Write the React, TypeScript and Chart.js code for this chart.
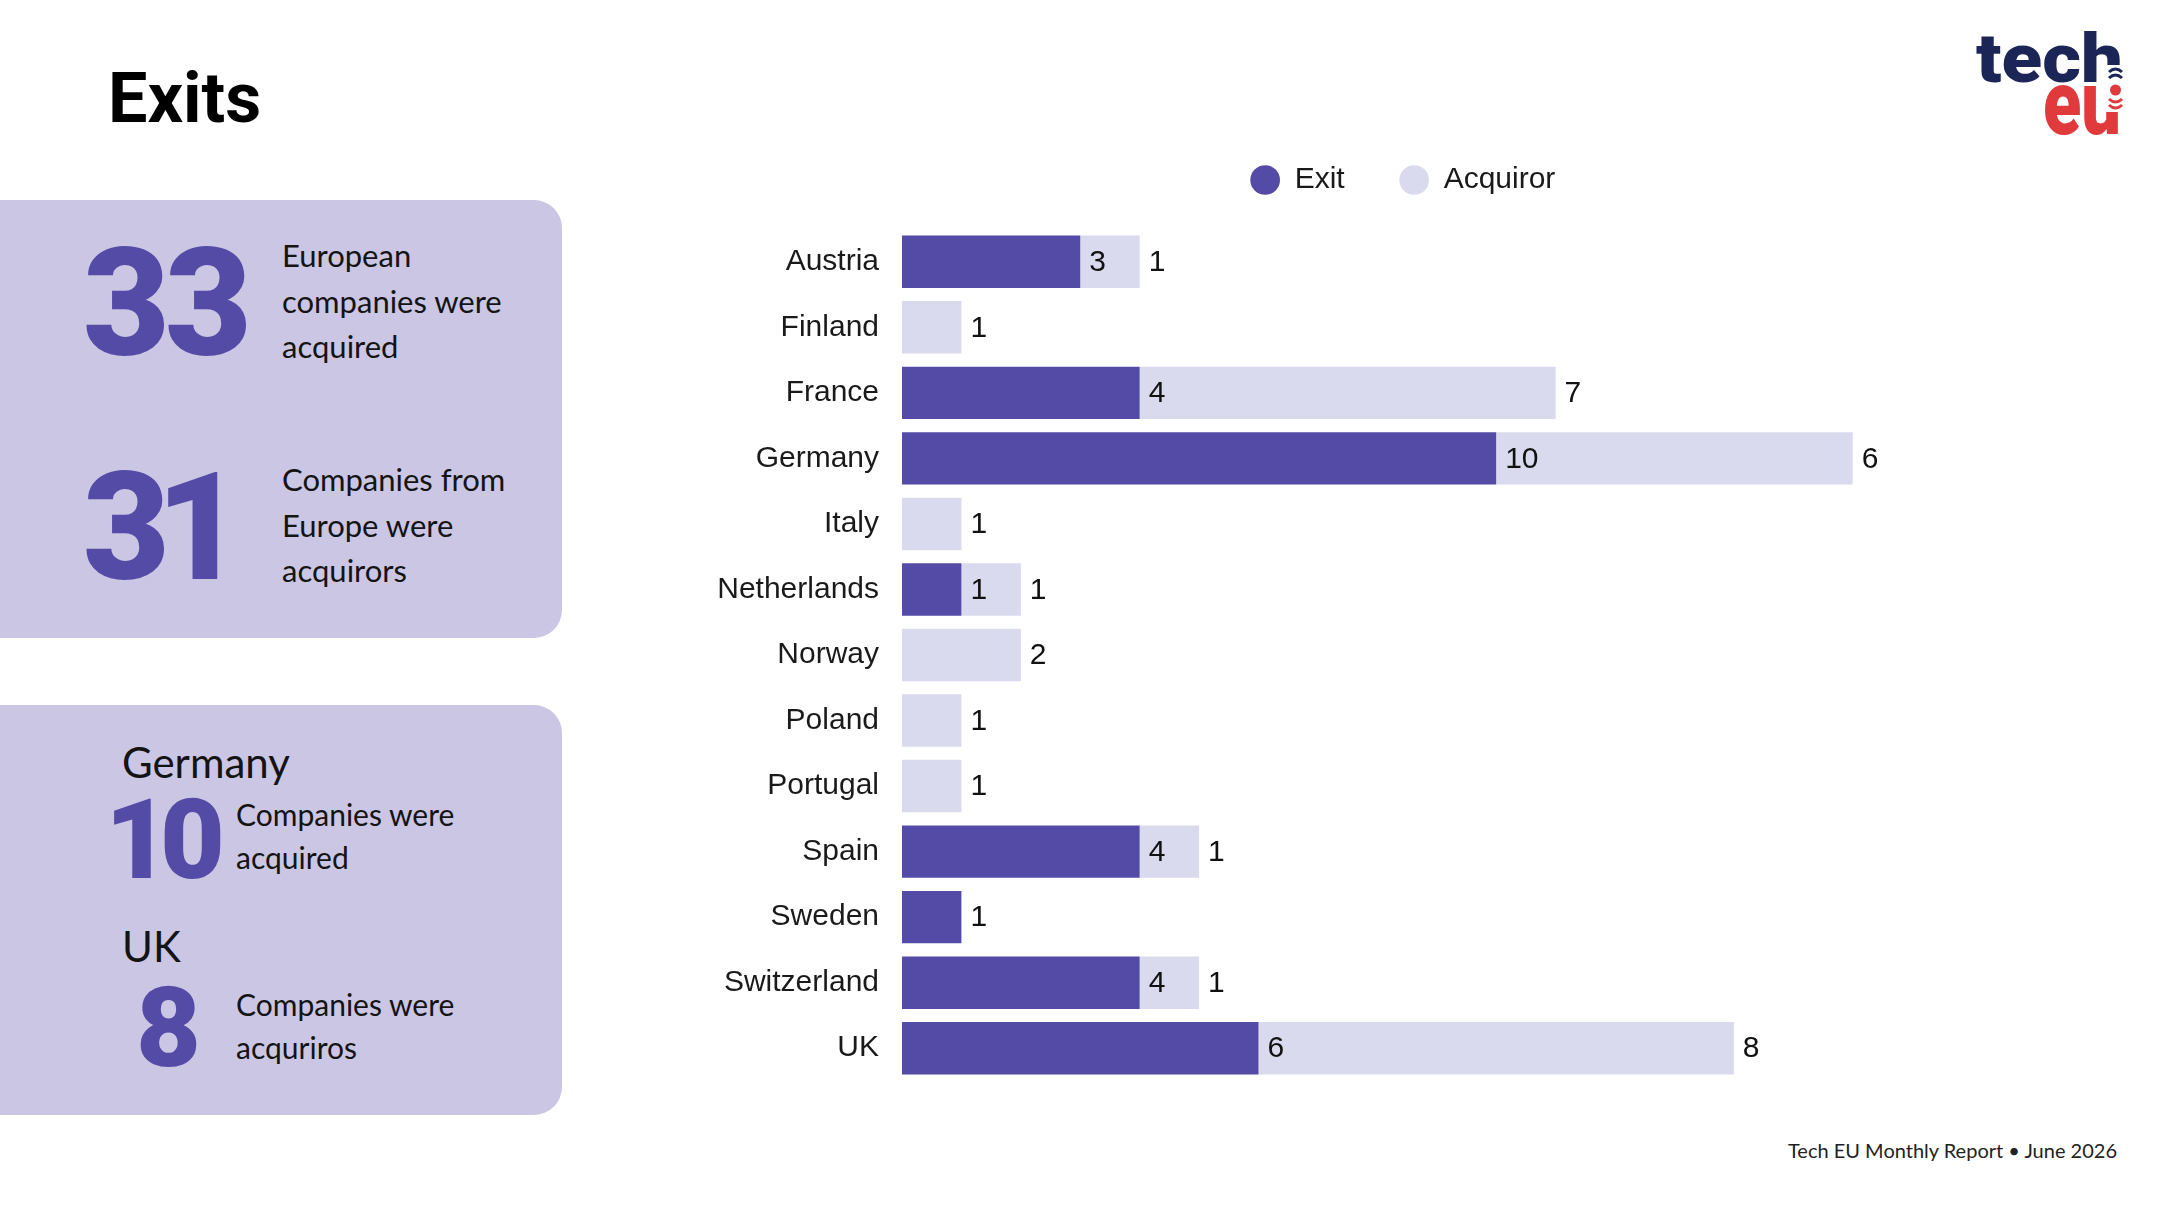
import React, { useEffect, useRef } from "react";
import { Chart, registerables } from "chart.js";

Chart.register(...registerables);

// Countries with deals this month
const countries = [
  "Austria",
  "Finland",
  "France",
  "Germany",
  "Italy",
  "Netherlands",
  "Norway",
  "Poland",
  "Portugal",
  "Spain",
  "Sweden",
  "Switzerland",
  "UK",
];

// Companies acquired (exits) per country
const exitCounts = [3, 0, 4, 10, 0, 1, 0, 0, 0, 4, 1, 4, 6];
// Companies acting as acquirors per country
const acquirorCounts = [1, 1, 7, 6, 1, 1, 2, 1, 1, 1, 0, 1, 8];

const seriesNames = ["Exit", "Acquiror"];

const EXIT_COLOR = "#534BA6";
const ACQUIROR_COLOR = "#DADAEE";
const PANEL_COLOR = "#CBC6E4";
const NAVY = "#1B2656";
const RED = "#E03A3C";
const LABEL_FONT = "'Liberation Sans', Arial, sans-serif";
const BODY_FONT = "Lato, 'Open Sans', sans-serif";
const NUMBER_FONT = "Roboto, 'Noto Sans', sans-serif";

// Writes each non-zero value just past the end of its bar segment
const valueLabels = {
  id: "valueLabels",
  afterDatasetsDraw(chart: any) {
    const ctx = chart.ctx;
    ctx.save();
    ctx.font = `30px ${LABEL_FONT}`;
    ctx.fillStyle = "#111111";
    ctx.textBaseline = "middle";
    ctx.textAlign = "left";
    chart.data.datasets.forEach((ds: any, i: number) => {
      const meta = chart.getDatasetMeta(i);
      meta.data.forEach((bar: any, j: number) => {
        const v = ds.data[j];
        if (!v) return;
        ctx.fillText(String(v), bar.x + 9, bar.y + 1);
      });
    });
    ctx.restore();
  },
};

// Adds breathing room between the legend and the bars
const legendGap = {
  id: "legendGap",
  beforeInit(chart: any) {
    const originalFit = chart.legend.fit;
    chart.legend.fit = function fit() {
      originalFit.bind(chart.legend)();
      this.height += 24;
    };
  },
};

function ExitsChart() {
  const canvasRef = useRef<HTMLCanvasElement | null>(null);

  useEffect(() => {
    if (!canvasRef.current) return;
    const chart = new Chart(canvasRef.current, {
      type: "bar",
      data: {
        labels: countries,
        datasets: [
          {
            label: seriesNames[0],
            data: exitCounts,
            backgroundColor: EXIT_COLOR,
            borderWidth: 0,
            categoryPercentage: 0.8,
            barPercentage: 1,
          },
          {
            label: seriesNames[1],
            data: acquirorCounts,
            backgroundColor: ACQUIROR_COLOR,
            borderWidth: 0,
            categoryPercentage: 0.8,
            barPercentage: 1,
          },
        ],
      },
      options: {
        indexAxis: "y",
        animation: false,
        responsive: false,
        maintainAspectRatio: false,
        layout: { padding: 0 },
        scales: {
          x: {
            stacked: true,
            display: false,
            min: 0,
            max: 20.6,
          },
          y: {
            stacked: true,
            grid: { display: false, drawTicks: false },
            border: { display: false },
            ticks: {
              padding: 23,
              color: "#1a1a1a",
              font: { family: LABEL_FONT, size: 30 },
            },
            afterFit(scale: any) {
              scale.width = 222;
              scale.paddingTop = 0;
              scale.paddingBottom = 0;
            },
          },
        },
        plugins: {
          legend: {
            display: true,
            position: "top",
            align: "center",
            labels: {
              usePointStyle: true,
              pointStyle: "circle",
              boxWidth: 29,
              boxHeight: 21,
              padding: 55,
              color: "#1a1a1a",
              font: { family: LABEL_FONT, size: 30 },
            },
          },
          tooltip: { enabled: false },
        },
      },
      plugins: [valueLabels, legendGap],
    } as any);
    return () => chart.destroy();
  }, []);

  return (
    <canvas
      ref={canvasRef}
      width={1446}
      height={971}
      style={{ position: "absolute", left: 680, top: 110, width: 1446, height: 971 }}
    />
  );
}

function Logo() {
  return (
    <svg
      width={200}
      height={130}
      viewBox="0 0 200 130"
      style={{ position: "absolute", left: 1960, top: 20 }}
    >
      <text
        x={16}
        y={62}
        fontFamily={NUMBER_FONT}
        fontWeight={900}
        fontSize={68}
        fill={NAVY}
        textLength={147}
        lengthAdjust="spacingAndGlyphs"
      >
        tech
      </text>
      <g transform="translate(83,114) scale(1,1.45)">
        <text
          x={0}
          y={0}
          fontFamily={NUMBER_FONT}
          fontWeight={900}
          fontSize={63}
          fill={RED}
          textLength={78}
          lengthAdjust="spacingAndGlyphs"
        >
          eu
        </text>
      </g>
      {/* signal "i": cut stems, then arcs around the dot */}
      <rect x={146} y={45} width={24} height={19} fill="#ffffff" />
      <rect x={146} y={64} width={24} height={28} fill="#ffffff" />
      <path d="M149 52 Q155.5 46 162 52" stroke={NAVY} strokeWidth={3} fill="none" />
      <path d="M149 58 Q155.5 52 162 58" stroke={NAVY} strokeWidth={3} fill="none" />
      <circle cx={155.5} cy={70} r={5.5} fill={RED} />
      <path d="M149 79 Q155.5 85 162 79" stroke={RED} strokeWidth={3} fill="none" />
      <path d="M149 85 Q155.5 91 162 85" stroke={RED} strokeWidth={3} fill="none" />
    </svg>
  );
}

export default function App() {
  const bigNumber: React.CSSProperties = {
    position: "absolute",
    fontFamily: NUMBER_FONT,
    fontWeight: 900,
    color: EXIT_COLOR,
    lineHeight: 1,
    whiteSpace: "nowrap",
  };
  const para: React.CSSProperties = {
    position: "absolute",
    fontFamily: BODY_FONT,
    color: "#141414",
    whiteSpace: "nowrap",
  };

  return (
    <div
      style={{
        position: "absolute",
        left: 0,
        top: 0,
        width: 2167,
        height: 1219,
        overflow: "hidden",
        background: "#ffffff",
      }}
    >
      <div
        style={{
          position: "absolute",
          left: 108,
          top: 63,
          fontFamily: NUMBER_FONT,
          fontWeight: 700,
          fontSize: 70,
          lineHeight: 1,
          color: "#000",
        }}
      >
        Exits
      </div>

      <Logo />

      {/* Summary panel: totals */}
      <div
        style={{
          position: "absolute",
          left: 0,
          top: 200,
          width: 562,
          height: 438,
          background: PANEL_COLOR,
          borderRadius: "0 28px 28px 0",
        }}
      />
      <div style={{ ...bigNumber, left: 83, top: 229, fontSize: 150, letterSpacing: -5 }}>33</div>
      <div style={{ ...para, left: 282, top: 233, fontSize: 31, lineHeight: "45.6px" }}>
        European
        <br />
        companies were
        <br />
        acquired
      </div>
      <div style={{ ...bigNumber, left: 83, top: 453, fontSize: 150, letterSpacing: -14 }}>31</div>
      <div style={{ ...para, left: 282, top: 457, fontSize: 31, lineHeight: "45.6px" }}>
        Companies from
        <br />
        Europe were
        <br />
        acquirors
      </div>

      {/* Summary panel: leading countries */}
      <div
        style={{
          position: "absolute",
          left: 0,
          top: 705,
          width: 562,
          height: 410,
          background: PANEL_COLOR,
          borderRadius: "0 28px 28px 0",
        }}
      />
      <div style={{ ...para, left: 122, top: 737, fontSize: 42, lineHeight: 1.2 }}>Germany</div>
      <div style={{ ...bigNumber, left: 105, top: 784, fontSize: 112, letterSpacing: -10 }}>10</div>
      <div style={{ ...para, left: 236, top: 793, fontSize: 30, lineHeight: "43px" }}>
        Companies were
        <br />
        acquired
      </div>
      <div style={{ ...para, left: 122, top: 921, fontSize: 42, lineHeight: 1.2 }}>UK</div>
      <div style={{ ...bigNumber, left: 136, top: 972, fontSize: 112 }}>8</div>
      <div style={{ ...para, left: 236, top: 983, fontSize: 30, lineHeight: "43px" }}>
        Companies were
        <br />
        acquriros
      </div>

      <ExitsChart />

      <div
        style={{
          position: "absolute",
          right: 50,
          top: 1137,
          fontFamily: BODY_FONT,
          fontSize: 20,
          lineHeight: "26px",
          color: "#222",
          whiteSpace: "nowrap",
        }}
      >
        Tech EU Monthly Report • June 2026
      </div>
    </div>
  );
}
